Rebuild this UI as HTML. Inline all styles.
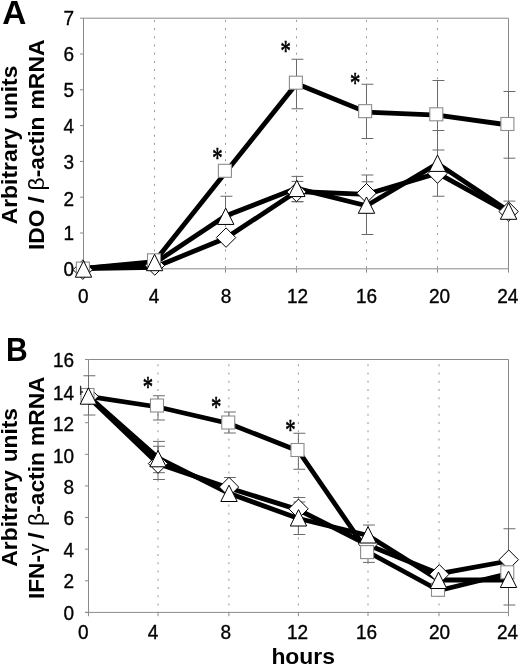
<!DOCTYPE html>
<html lang="en">
<head>
<meta charset="utf-8">
<title>Figure</title>
<style>html,body{margin:0;padding:0;background:#fff}svg{display:block;will-change:transform}</style>
</head>
<body>
<svg width="520" height="666" viewBox="0 0 520 666" font-family='"Liberation Sans", sans-serif' fill="#000">
<rect width="520" height="666" fill="#fff"/>
<text x="2.3" y="24" font-size="33.4" font-weight="bold">A</text>
<text transform="translate(5.9,360.7) scale(0.9,1)" font-size="33.4" font-weight="bold">B</text>
<text transform="translate(17.40,224.29) rotate(-90) scale(0.9984,1)" font-size="22.9" font-weight="bold">Arbitrary</text>
<text transform="translate(17.40,119.86) rotate(-90) scale(0.9897,1)" font-size="22.9" font-weight="bold">units</text>
<text transform="translate(17.40,566.69) rotate(-90) scale(0.9984,1)" font-size="22.9" font-weight="bold">Arbitrary</text>
<text transform="translate(17.40,462.26) rotate(-90) scale(0.9897,1)" font-size="22.9" font-weight="bold">units</text>
<text transform="translate(43.90,250.00) rotate(-90) scale(0.9989,1)" font-size="22.9" font-weight="bold">IDO</text>
<text transform="translate(43.90,203.25) rotate(-90) scale(1.0917,1)" font-size="22.9" font-weight="bold">/</text>
<text transform="translate(43.90,190.39) rotate(-90) scale(0.9941,1)" font-size="22.9" font-weight="bold"><tspan font-weight="normal">β</tspan>-actin</text>
<text transform="translate(43.90,109.61) rotate(-90) scale(1.0036,1)" font-size="22.9" font-weight="bold">mRNA</text>
<text transform="translate(43.90,598.98) rotate(-90) scale(0.9879,1)" font-size="22.9" font-weight="bold">IFN-</text>
<text transform="translate(43.90,555.24) rotate(-90) scale(1.0371,1)" font-size="22.9" font-weight="normal">γ</text>
<text transform="translate(43.90,539.04) rotate(-90) scale(1.0413,1)" font-size="22.9" font-weight="bold">/</text>
<text transform="translate(43.90,525.89) rotate(-90) scale(0.9941,1)" font-size="22.9" font-weight="bold"><tspan font-weight="normal">β</tspan>-actin</text>
<text transform="translate(43.90,446.10) rotate(-90) scale(0.9962,1)" font-size="22.9" font-weight="bold">mRNA</text>
<text x="271.4" y="664.2" font-size="22.9" font-weight="bold">hours</text>
<line x1="154.50" y1="19.90" x2="154.50" y2="268.80" stroke="#969696" stroke-width="1" stroke-dasharray="2 6.20"/>
<line x1="225.50" y1="19.90" x2="225.50" y2="268.80" stroke="#969696" stroke-width="1" stroke-dasharray="2 6.20"/>
<line x1="296.50" y1="19.90" x2="296.50" y2="268.80" stroke="#969696" stroke-width="1" stroke-dasharray="2 6.20"/>
<line x1="366.50" y1="19.90" x2="366.50" y2="268.80" stroke="#969696" stroke-width="1" stroke-dasharray="2 6.20"/>
<line x1="437.50" y1="19.90" x2="437.50" y2="268.80" stroke="#969696" stroke-width="1" stroke-dasharray="2 6.20"/>
<path d="M83.50,268.80V18.20H508.50V268.80" fill="none" stroke="#8a8a8a" stroke-width="1"/>
<line x1="80.00" y1="268.80" x2="508.50" y2="268.80" stroke="#8a8a8a" stroke-width="1"/>
<line x1="80.00" y1="268.80" x2="83.50" y2="268.80" stroke="#8a8a8a" stroke-width="1"/>
<text transform="translate(74.00,275.90) scale(0.95,1.03)" font-size="20" text-anchor="end" stroke="#000" stroke-width="0.35">0</text>
<line x1="80.00" y1="233.00" x2="83.50" y2="233.00" stroke="#8a8a8a" stroke-width="1"/>
<text transform="translate(74.00,240.10) scale(0.95,1.03)" font-size="20" text-anchor="end" stroke="#000" stroke-width="0.35">1</text>
<line x1="80.00" y1="197.20" x2="83.50" y2="197.20" stroke="#8a8a8a" stroke-width="1"/>
<text transform="translate(74.00,205.50) scale(0.95,1.03)" font-size="20" text-anchor="end" stroke="#000" stroke-width="0.35">2</text>
<line x1="80.00" y1="161.40" x2="83.50" y2="161.40" stroke="#8a8a8a" stroke-width="1"/>
<text transform="translate(74.00,168.50) scale(0.95,1.03)" font-size="20" text-anchor="end" stroke="#000" stroke-width="0.35">3</text>
<line x1="80.00" y1="125.60" x2="83.50" y2="125.60" stroke="#8a8a8a" stroke-width="1"/>
<text transform="translate(74.00,132.70) scale(0.95,1.03)" font-size="20" text-anchor="end" stroke="#000" stroke-width="0.35">4</text>
<line x1="80.00" y1="89.80" x2="83.50" y2="89.80" stroke="#8a8a8a" stroke-width="1"/>
<text transform="translate(74.00,96.90) scale(0.95,1.03)" font-size="20" text-anchor="end" stroke="#000" stroke-width="0.35">5</text>
<line x1="80.00" y1="54.00" x2="83.50" y2="54.00" stroke="#8a8a8a" stroke-width="1"/>
<text transform="translate(74.00,61.10) scale(0.95,1.03)" font-size="20" text-anchor="end" stroke="#000" stroke-width="0.35">6</text>
<line x1="80.00" y1="18.20" x2="83.50" y2="18.20" stroke="#8a8a8a" stroke-width="1"/>
<text transform="translate(74.00,25.30) scale(0.95,1.03)" font-size="20" text-anchor="end" stroke="#000" stroke-width="0.35">7</text>
<line x1="83.50" y1="268.80" x2="83.50" y2="272.60" stroke="#8a8a8a" stroke-width="1"/>
<text transform="translate(83.30,303.20) scale(0.95,1.03)" font-size="20" text-anchor="middle" stroke="#000" stroke-width="0.35">0</text>
<line x1="154.50" y1="268.80" x2="154.50" y2="272.60" stroke="#8a8a8a" stroke-width="1"/>
<text transform="translate(154.10,303.20) scale(0.95,1.03)" font-size="20" text-anchor="middle" stroke="#000" stroke-width="0.35">4</text>
<line x1="225.50" y1="268.80" x2="225.50" y2="272.60" stroke="#8a8a8a" stroke-width="1"/>
<text transform="translate(226.00,303.20) scale(0.95,1.03)" font-size="20" text-anchor="middle" stroke="#000" stroke-width="0.35">8</text>
<line x1="296.50" y1="268.80" x2="296.50" y2="272.60" stroke="#8a8a8a" stroke-width="1"/>
<text transform="translate(297.50,303.20) scale(0.95,1.03)" font-size="20" text-anchor="middle" stroke="#000" stroke-width="0.35">12</text>
<line x1="366.50" y1="268.80" x2="366.50" y2="272.60" stroke="#8a8a8a" stroke-width="1"/>
<text transform="translate(366.60,303.20) scale(0.95,1.03)" font-size="20" text-anchor="middle" stroke="#000" stroke-width="0.35">16</text>
<line x1="437.50" y1="268.80" x2="437.50" y2="272.60" stroke="#8a8a8a" stroke-width="1"/>
<text transform="translate(439.60,303.20) scale(0.95,1.03)" font-size="20" text-anchor="middle" stroke="#000" stroke-width="0.35">20</text>
<line x1="508.50" y1="268.80" x2="508.50" y2="272.60" stroke="#8a8a8a" stroke-width="1"/>
<text transform="translate(507.80,303.20) scale(0.95,1.03)" font-size="20" text-anchor="middle" stroke="#000" stroke-width="0.35">24</text>
<path d="M296.50,59.25V108.75M291.50,59.25h11.9M291.50,108.75h11.9" fill="none" stroke="#6a6a6a" stroke-width="1"/>
<path d="M366.50,84.25V138.50M361.50,84.25h11.9M361.50,138.50h11.9" fill="none" stroke="#6a6a6a" stroke-width="1"/>
<path d="M437.50,80.50V150.00M432.50,80.50h11.9M432.50,150.00h11.9" fill="none" stroke="#6a6a6a" stroke-width="1"/>
<path d="M508.50,91.50V158.20M503.50,91.50h11.9M503.50,158.20h11.9" fill="none" stroke="#6a6a6a" stroke-width="1"/>
<path d="M225.50,196.25V216.00M220.50,196.25h11.9M220.50,216.00h11.9" fill="none" stroke="#6a6a6a" stroke-width="1"/>
<path d="M296.50,176.40V201.70M291.50,176.40h11.9M291.50,201.70h11.9" fill="none" stroke="#6a6a6a" stroke-width="1"/>
<path d="M296.50,181.40V201.70M291.50,181.40h11.9M291.50,201.70h11.9" fill="none" stroke="#6a6a6a" stroke-width="1"/>
<path d="M366.50,175.00V212.00M361.50,175.00h11.9M361.50,212.00h11.9" fill="none" stroke="#6a6a6a" stroke-width="1"/>
<path d="M366.50,181.80V234.50M361.50,181.80h11.9M361.50,234.50h11.9" fill="none" stroke="#6a6a6a" stroke-width="1"/>
<path d="M437.50,130.50V196.25M432.50,130.50h11.9M432.50,196.25h11.9" fill="none" stroke="#6a6a6a" stroke-width="1"/>
<path d="M508.50,201.10V214.00M503.50,201.10h11.9M503.50,214.00h11.9" fill="none" stroke="#6a6a6a" stroke-width="1"/>
<polyline points="83.50,268.70 154.50,267.30 225.50,238.30 296.50,191.50 366.50,194.30 437.50,173.10 508.50,212.50" fill="none" stroke="#000" stroke-width="4.8" stroke-linejoin="miter" stroke-linecap="butt"/>
<polyline points="83.50,268.50 154.50,263.20 225.50,216.00 296.50,188.30 366.50,205.80 437.50,163.60 508.50,211.00" fill="none" stroke="#000" stroke-width="4.8" stroke-linejoin="miter" stroke-linecap="butt"/>
<polyline points="83.50,268.30 154.50,261.60 225.50,172.60 296.50,83.70 366.50,112.20 437.50,115.10 508.50,125.00" fill="none" stroke="#000" stroke-width="4.8" stroke-linejoin="miter" stroke-linecap="butt"/>
<polygon points="82.80,260.00 92.50,269.70 82.80,279.40 73.10,269.70" fill="#fff" stroke="#000" stroke-width="1"/>
<rect x="76.40" y="262.10" width="13.0" height="13.0" fill="#fff" stroke="#8c8c8c" stroke-width="1.1"/>
<polygon points="83.50,260.84 91.70,277.20 75.30,277.20" fill="#fff" stroke="#000" stroke-width="1"/>
<polygon points="154.80,255.80 164.50,265.50 154.80,275.20 145.10,265.50" fill="#fff" stroke="#000" stroke-width="1"/>
<rect x="147.50" y="253.80" width="13.0" height="13.0" fill="#fff" stroke="#8c8c8c" stroke-width="1.1"/>
<polygon points="154.60,254.34 162.80,270.70 146.40,270.70" fill="#fff" stroke="#000" stroke-width="1"/>
<polygon points="226.05,227.90 235.75,237.60 226.05,247.30 216.35,237.60" fill="#fff" stroke="#000" stroke-width="1"/>
<rect x="218.40" y="164.30" width="13.0" height="13.0" fill="#fff" stroke="#8c8c8c" stroke-width="1.1"/>
<polygon points="225.70,208.09 233.90,224.45 217.50,224.45" fill="#fff" stroke="#000" stroke-width="1"/>
<polygon points="296.50,182.30 306.20,192.00 296.50,201.70 286.80,192.00" fill="#fff" stroke="#000" stroke-width="1"/>
<rect x="289.40" y="76.20" width="13.0" height="13.0" fill="#fff" stroke="#8c8c8c" stroke-width="1.1"/>
<polygon points="296.80,180.19 305.00,196.55 288.60,196.55" fill="#fff" stroke="#000" stroke-width="1"/>
<polygon points="366.50,183.50 376.20,193.20 366.50,202.90 356.80,193.20" fill="#fff" stroke="#000" stroke-width="1"/>
<rect x="358.65" y="104.65" width="13.0" height="13.0" fill="#fff" stroke="#8c8c8c" stroke-width="1.1"/>
<polygon points="366.50,196.94 374.70,213.30 358.30,213.30" fill="#fff" stroke="#000" stroke-width="1"/>
<polygon points="437.50,163.90 447.20,173.60 437.50,183.30 427.80,173.60" fill="#fff" stroke="#000" stroke-width="1"/>
<rect x="429.80" y="107.80" width="13.0" height="13.0" fill="#fff" stroke="#8c8c8c" stroke-width="1.1"/>
<polygon points="437.50,155.04 445.70,171.40 429.30,171.40" fill="#fff" stroke="#000" stroke-width="1"/>
<polygon points="508.60,201.80 518.30,211.50 508.60,221.20 498.90,211.50" fill="#fff" stroke="#000" stroke-width="1"/>
<rect x="500.90" y="117.50" width="13.0" height="13.0" fill="#fff" stroke="#8c8c8c" stroke-width="1.1"/>
<polygon points="508.60,202.94 516.80,219.30 500.40,219.30" fill="#fff" stroke="#000" stroke-width="1"/>
<text transform="translate(217.50,153.50) scale(0.86,1.2)" x="0" y="11.4" font-family='"Liberation Serif", serif' font-size="24" stroke="#000" stroke-width="0.55" text-anchor="middle">*</text>
<text transform="translate(285.60,46.50) scale(0.86,1.2)" x="0" y="11.4" font-family='"Liberation Serif", serif' font-size="24" stroke="#000" stroke-width="0.55" text-anchor="middle">*</text>
<text transform="translate(355.20,78.30) scale(0.86,1.2)" x="0" y="11.4" font-family='"Liberation Serif", serif' font-size="24" stroke="#000" stroke-width="0.55" text-anchor="middle">*</text>
<line x1="158.00" y1="364.25" x2="158.00" y2="612.40" stroke="#969696" stroke-width="1" stroke-dasharray="2 6.25"/>
<line x1="228.90" y1="364.25" x2="228.90" y2="612.40" stroke="#969696" stroke-width="1" stroke-dasharray="2 6.25"/>
<line x1="298.40" y1="364.25" x2="298.40" y2="612.40" stroke="#969696" stroke-width="1" stroke-dasharray="2 6.25"/>
<line x1="368.00" y1="364.25" x2="368.00" y2="612.40" stroke="#969696" stroke-width="1" stroke-dasharray="2 6.25"/>
<line x1="439.00" y1="364.25" x2="439.00" y2="612.40" stroke="#969696" stroke-width="1" stroke-dasharray="2 6.25"/>
<path d="M88.50,612.40V359.50H508.50V612.40" fill="none" stroke="#8a8a8a" stroke-width="1"/>
<line x1="85.00" y1="612.40" x2="508.50" y2="612.40" stroke="#8a8a8a" stroke-width="1"/>
<line x1="85.00" y1="612.40" x2="88.50" y2="612.40" stroke="#8a8a8a" stroke-width="1"/>
<text transform="translate(74.00,620.10) scale(0.95,1.03)" font-size="20" text-anchor="end" stroke="#000" stroke-width="0.35">0</text>
<line x1="85.00" y1="580.79" x2="88.50" y2="580.79" stroke="#8a8a8a" stroke-width="1"/>
<text transform="translate(74.00,588.49) scale(0.95,1.03)" font-size="20" text-anchor="end" stroke="#000" stroke-width="0.35">2</text>
<line x1="85.00" y1="549.17" x2="88.50" y2="549.17" stroke="#8a8a8a" stroke-width="1"/>
<text transform="translate(74.00,556.98) scale(0.95,1.03)" font-size="20" text-anchor="end" stroke="#000" stroke-width="0.35">4</text>
<line x1="85.00" y1="517.56" x2="88.50" y2="517.56" stroke="#8a8a8a" stroke-width="1"/>
<text transform="translate(74.00,525.36) scale(0.95,1.03)" font-size="20" text-anchor="end" stroke="#000" stroke-width="0.35">6</text>
<line x1="85.00" y1="485.95" x2="88.50" y2="485.95" stroke="#8a8a8a" stroke-width="1"/>
<text transform="translate(74.00,493.75) scale(0.95,1.03)" font-size="20" text-anchor="end" stroke="#000" stroke-width="0.35">8</text>
<line x1="85.00" y1="454.34" x2="88.50" y2="454.34" stroke="#8a8a8a" stroke-width="1"/>
<text transform="translate(74.00,462.64) scale(0.95,1.03)" font-size="20" text-anchor="end" stroke="#000" stroke-width="0.35">10</text>
<line x1="85.00" y1="422.73" x2="88.50" y2="422.73" stroke="#8a8a8a" stroke-width="1"/>
<text transform="translate(74.00,431.33) scale(0.95,1.03)" font-size="20" text-anchor="end" stroke="#000" stroke-width="0.35">12</text>
<line x1="85.00" y1="391.11" x2="88.50" y2="391.11" stroke="#8a8a8a" stroke-width="1"/>
<text transform="translate(74.00,400.31) scale(0.95,1.03)" font-size="20" text-anchor="end" stroke="#000" stroke-width="0.35">14</text>
<line x1="85.00" y1="359.50" x2="88.50" y2="359.50" stroke="#8a8a8a" stroke-width="1"/>
<text transform="translate(74.00,366.90) scale(0.95,1.03)" font-size="20" text-anchor="end" stroke="#000" stroke-width="0.35">16</text>
<line x1="88.50" y1="612.40" x2="88.50" y2="616.20" stroke="#8a8a8a" stroke-width="1"/>
<text transform="translate(83.30,639.10) scale(0.95,1.03)" font-size="20" text-anchor="middle" stroke="#000" stroke-width="0.35">0</text>
<line x1="158.00" y1="612.40" x2="158.00" y2="616.20" stroke="#8a8a8a" stroke-width="1"/>
<text transform="translate(153.10,639.10) scale(0.95,1.03)" font-size="20" text-anchor="middle" stroke="#000" stroke-width="0.35">4</text>
<line x1="228.90" y1="612.40" x2="228.90" y2="616.20" stroke="#8a8a8a" stroke-width="1"/>
<text transform="translate(225.80,639.10) scale(0.95,1.03)" font-size="20" text-anchor="middle" stroke="#000" stroke-width="0.35">8</text>
<line x1="298.40" y1="612.40" x2="298.40" y2="616.20" stroke="#8a8a8a" stroke-width="1"/>
<text transform="translate(297.50,639.10) scale(0.95,1.03)" font-size="20" text-anchor="middle" stroke="#000" stroke-width="0.35">12</text>
<line x1="368.00" y1="612.40" x2="368.00" y2="616.20" stroke="#8a8a8a" stroke-width="1"/>
<text transform="translate(366.50,639.10) scale(0.95,1.03)" font-size="20" text-anchor="middle" stroke="#000" stroke-width="0.35">16</text>
<line x1="439.00" y1="612.40" x2="439.00" y2="616.20" stroke="#8a8a8a" stroke-width="1"/>
<text transform="translate(439.60,639.10) scale(0.95,1.03)" font-size="20" text-anchor="middle" stroke="#000" stroke-width="0.35">20</text>
<line x1="508.50" y1="612.40" x2="508.50" y2="616.20" stroke="#8a8a8a" stroke-width="1"/>
<text transform="translate(507.60,639.10) scale(0.95,1.03)" font-size="20" text-anchor="middle" stroke="#000" stroke-width="0.35">24</text>
<path d="M88.50,375.75V415.00M83.50,375.75h11.9M83.50,415.00h11.9" fill="none" stroke="#6a6a6a" stroke-width="1"/>
<path d="M158.00,395.75V420.00M153.00,395.75h11.9M153.00,420.00h11.9" fill="none" stroke="#6a6a6a" stroke-width="1"/>
<path d="M158.00,441.40V472.70M153.00,441.40h11.9M153.00,472.70h11.9" fill="none" stroke="#6a6a6a" stroke-width="1"/>
<path d="M158.00,446.25V479.50M153.00,446.25h11.9M153.00,479.50h11.9" fill="none" stroke="#6a6a6a" stroke-width="1"/>
<path d="M228.90,412.00V433.00M223.90,412.00h11.9M223.90,433.00h11.9" fill="none" stroke="#6a6a6a" stroke-width="1"/>
<path d="M228.90,477.50V497.00M223.90,477.50h11.9M223.90,497.00h11.9" fill="none" stroke="#6a6a6a" stroke-width="1"/>
<path d="M298.40,433.25V469.25M293.40,433.25h11.9M293.40,469.25h11.9" fill="none" stroke="#6a6a6a" stroke-width="1"/>
<path d="M298.40,497.50V521.00M293.40,497.50h11.9M293.40,521.00h11.9" fill="none" stroke="#6a6a6a" stroke-width="1"/>
<path d="M298.40,502.00V534.50M293.40,502.00h11.9M293.40,534.50h11.9" fill="none" stroke="#6a6a6a" stroke-width="1"/>
<path d="M368.00,525.00V562.40M363.00,525.00h11.9M363.00,562.40h11.9" fill="none" stroke="#6a6a6a" stroke-width="1"/>
<path d="M508.50,528.75V605.00M503.50,528.75h11.9M503.50,605.00h11.9" fill="none" stroke="#6a6a6a" stroke-width="1"/>
<polyline points="88.50,397.00 158.00,463.60 228.90,488.00 298.40,509.80 368.00,545.00 439.00,573.70 508.50,561.00" fill="none" stroke="#000" stroke-width="4.8" stroke-linejoin="miter" stroke-linecap="butt"/>
<polyline points="88.50,396.20 158.00,457.80 228.90,493.30 298.40,518.50 368.00,535.50 439.00,580.00 508.50,580.00" fill="none" stroke="#000" stroke-width="4.8" stroke-linejoin="miter" stroke-linecap="butt"/>
<polyline points="88.50,396.30 158.00,407.00 228.90,423.50 298.40,451.00 368.00,552.00 439.00,590.50 508.50,573.50" fill="none" stroke="#000" stroke-width="4.8" stroke-linejoin="miter" stroke-linecap="butt"/>
<polygon points="90.00,388.10 98.30,396.40 90.00,404.70 81.70,396.40" fill="#fff" stroke="#000" stroke-width="1"/>
<rect x="81.00" y="388.50" width="13.0" height="13.0" fill="#fff" stroke="#8c8c8c" stroke-width="1.1"/>
<polygon points="88.40,387.84 96.60,404.20 80.20,404.20" fill="#fff" stroke="#000" stroke-width="1"/>
<polygon points="158.00,453.90 167.70,463.60 158.00,473.30 148.30,463.60" fill="#fff" stroke="#000" stroke-width="1"/>
<rect x="150.50" y="399.00" width="13.0" height="13.0" fill="#fff" stroke="#8c8c8c" stroke-width="1.1"/>
<polygon points="158.00,450.44 166.20,466.80 149.80,466.80" fill="#fff" stroke="#000" stroke-width="1"/>
<polygon points="229.00,477.30 238.70,487.00 229.00,496.70 219.30,487.00" fill="#fff" stroke="#000" stroke-width="1"/>
<rect x="221.75" y="416.00" width="13.0" height="13.0" fill="#fff" stroke="#8c8c8c" stroke-width="1.1"/>
<polygon points="229.00,485.14 237.20,501.50 220.80,501.50" fill="#fff" stroke="#000" stroke-width="1"/>
<polygon points="298.50,499.10 308.20,508.80 298.50,518.50 288.80,508.80" fill="#fff" stroke="#000" stroke-width="1"/>
<rect x="291.00" y="443.50" width="13.0" height="13.0" fill="#fff" stroke="#8c8c8c" stroke-width="1.1"/>
<polygon points="298.50,509.64 306.70,526.00 290.30,526.00" fill="#fff" stroke="#000" stroke-width="1"/>
<polygon points="368.00,534.30 377.70,544.00 368.00,553.70 358.30,544.00" fill="#fff" stroke="#000" stroke-width="1"/>
<rect x="360.60" y="545.60" width="13.0" height="13.0" fill="#fff" stroke="#8c8c8c" stroke-width="1.1"/>
<polygon points="368.00,526.64 376.20,543.00 359.80,543.00" fill="#fff" stroke="#000" stroke-width="1"/>
<polygon points="439.30,564.60 449.00,574.30 439.30,584.00 429.60,574.30" fill="#fff" stroke="#000" stroke-width="1"/>
<rect x="431.50" y="583.30" width="13.0" height="13.0" fill="#fff" stroke="#8c8c8c" stroke-width="1.1"/>
<polygon points="438.50,572.14 446.70,588.50 430.30,588.50" fill="#fff" stroke="#000" stroke-width="1"/>
<polygon points="508.75,550.00 518.45,559.70 508.75,569.40 499.05,559.70" fill="#fff" stroke="#000" stroke-width="1"/>
<rect x="500.80" y="565.80" width="13.0" height="13.0" fill="#fff" stroke="#8c8c8c" stroke-width="1.1"/>
<polygon points="508.50,571.14 516.70,587.50 500.30,587.50" fill="#fff" stroke="#000" stroke-width="1"/>
<text transform="translate(148.00,382.50) scale(0.86,1.2)" x="0" y="11.4" font-family='"Liberation Serif", serif' font-size="24" stroke="#000" stroke-width="0.55" text-anchor="middle">*</text>
<text transform="translate(216.25,402.50) scale(0.86,1.2)" x="0" y="11.4" font-family='"Liberation Serif", serif' font-size="24" stroke="#000" stroke-width="0.55" text-anchor="middle">*</text>
<text transform="translate(290.50,425.75) scale(0.86,1.2)" x="0" y="11.4" font-family='"Liberation Serif", serif' font-size="24" stroke="#000" stroke-width="0.55" text-anchor="middle">*</text>
<path d="M80.6,385.8V395M80.6,392h2.4" fill="none" stroke="#2a2a2a" stroke-width="1.3"/>
</svg>
</body>
</html>
